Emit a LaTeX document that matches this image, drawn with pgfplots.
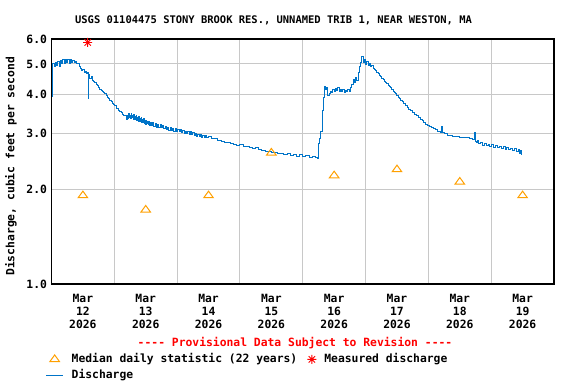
\documentclass[border=0pt]{standalone}
\usepackage{pgfplots}
\pgfplotsset{compat=1.18}
\usepackage{pgfplotstable}
\usepackage{fontspec}
\setmainfont{DejaVu Sans Mono}[Ligatures=ResetAll]
\definecolor{qblue}{HTML}{0074C8}
\definecolor{qorange}{HTML}{FFA000}
\definecolor{qgrid}{HTML}{C8C8C8}
\pgfdeclareplotmark{usgsstar}{%
  \pgfpathmoveto{\pgfqpoint{0pt}{\pgfplotmarksize}}\pgfpathlineto{\pgfqpoint{0pt}{-\pgfplotmarksize}}%
  \pgfpathmoveto{\pgfqpoint{\pgfplotmarksize}{0pt}}\pgfpathlineto{\pgfqpoint{-\pgfplotmarksize}{0pt}}%
  \pgfpathmoveto{\pgfqpoint{0.707\pgfplotmarksize}{0.707\pgfplotmarksize}}\pgfpathlineto{\pgfqpoint{-0.707\pgfplotmarksize}{-0.707\pgfplotmarksize}}%
  \pgfpathmoveto{\pgfqpoint{-0.707\pgfplotmarksize}{0.707\pgfplotmarksize}}\pgfpathlineto{\pgfqpoint{0.707\pgfplotmarksize}{-0.707\pgfplotmarksize}}%
  \pgfusepathqstroke}
\pgfplotstableread{
d q
0.00 4.95
0.01 3.94
0.02 5.02
0.04 4.90
0.06 5.05
0.08 4.96
0.10 5.10
0.12 4.92
0.14 5.14
0.16 5.00
0.18 5.17
0.20 5.03
0.22 5.18
0.24 5.05
0.26 5.15
0.28 5.02
0.30 5.17
0.32 5.06
0.34 5.12
0.36 5.04
0.38 5.08
0.40 5.02
0.42 5.00
0.44 4.90
0.46 4.85
0.48 4.77
0.50 4.80
0.52 4.70
0.54 4.74
0.56 4.66
0.58 4.68
0.585 3.87
0.59 4.62
0.61 4.50
0.63 4.55
0.65 4.44
0.67 4.40
0.69 4.36
0.71 4.30
0.73 4.26
0.75 4.20
0.77 4.16
0.79 4.12
0.81 4.10
0.83 4.05
0.85 4.02
0.87 3.96
0.89 3.90
0.91 3.88
0.93 3.82
0.95 3.80
0.97 3.75
0.99 3.72
1.01 3.68
1.03 3.62
1.05 3.60
1.07 3.55
1.09 3.52
1.11 3.50
1.13 3.46
1.15 3.44
1.17 3.42
1.19 3.40
1.20 3.33
1.21 3.42
1.22 3.36
1.23 3.47
1.24 3.38
1.25 3.44
1.26 3.35
1.27 3.48
1.28 3.38
1.29 3.44
1.30 3.34
1.31 3.46
1.32 3.33
1.33 3.40
1.34 3.32
1.35 3.43
1.36 3.30
1.37 3.38
1.38 3.29
1.39 3.40
1.40 3.28
1.41 3.36
1.42 3.30
1.43 3.38
1.44 3.27
1.45 3.33
1.46 3.25
1.47 3.35
1.48 3.24
1.49 3.30
1.50 3.22
1.51 3.31
1.52 3.23
1.53 3.29
1.54 3.21
1.55 3.28
1.56 3.19
1.57 3.26
1.59 3.18
1.61 3.25
1.63 3.17
1.65 3.23
1.67 3.15
1.69 3.22
1.71 3.14
1.73 3.20
1.75 3.13
1.77 3.19
1.79 3.11
1.81 3.17
1.83 3.10
1.85 3.15
1.87 3.08
1.89 3.14
1.91 3.07
1.93 3.12
1.95 3.06
1.97 3.11
1.99 3.05
2.01 3.10
2.03 3.04
2.05 3.09
2.07 3.02
2.09 3.07
2.11 3.01
2.13 3.06
2.15 3.00
2.17 3.05
2.19 2.99
2.21 3.04
2.23 2.98
2.25 3.02
2.27 2.96
2.29 3.01
2.31 2.95
2.33 2.99
2.35 2.94
2.37 2.98
2.39 2.93
2.41 2.97
2.43 2.92
2.45 2.96
2.47 2.91
2.50 2.94
2.55 2.90
2.60 2.89
2.65 2.86
2.70 2.84
2.75 2.82
2.80 2.81
2.85 2.79
2.90 2.78
2.95 2.76
3.00 2.77
3.05 2.74
3.10 2.73
3.15 2.72
3.20 2.70
3.25 2.71
3.30 2.67
3.35 2.66
3.40 2.64
3.45 2.63
3.50 2.61
3.55 2.62
3.60 2.59
3.65 2.60
3.70 2.57
3.75 2.59
3.80 2.56
3.85 2.58
3.90 2.55
3.95 2.57
4.00 2.54
4.05 2.56
4.10 2.53
4.15 2.55
4.20 2.52
4.24 2.50
4.25 2.80
4.27 2.90
4.29 3.05
4.31 3.40
4.32 3.57
4.33 3.90
4.34 4.25
4.36 4.15
4.38 4.20
4.40 3.98
4.42 4.02
4.44 4.10
4.46 4.05
4.48 4.15
4.50 4.08
4.52 4.18
4.54 4.12
4.56 4.20
4.58 4.10
4.60 4.16
4.62 4.08
4.64 4.14
4.66 4.06
4.68 4.12
4.70 4.08
4.72 4.15
4.74 4.10
4.76 4.20
4.78 4.30
4.80 4.45
4.82 4.38
4.84 4.52
4.86 4.42
4.88 4.70
4.90 4.90
4.92 5.05
4.94 5.29
4.96 5.05
4.98 5.15
5.00 4.98
5.02 5.08
5.04 4.95
5.06 5.00
5.08 4.92
5.10 4.96
5.12 4.85
5.14 4.80
5.16 4.76
5.18 4.70
5.20 4.66
5.22 4.58
5.24 4.55
5.26 4.48
5.28 4.45
5.30 4.40
5.32 4.35
5.34 4.32
5.36 4.28
5.38 4.24
5.40 4.20
5.42 4.14
5.44 4.10
5.46 4.06
5.48 4.02
5.50 3.98
5.52 3.92
5.54 3.88
5.56 3.84
5.58 3.80
5.60 3.75
5.63 3.70
5.66 3.64
5.69 3.58
5.72 3.55
5.75 3.50
5.78 3.45
5.81 3.42
5.84 3.37
5.87 3.34
5.90 3.30
5.93 3.26
5.96 3.22
5.99 3.19
6.02 3.16
6.05 3.14
6.08 3.12
6.11 3.09
6.14 3.06
6.17 3.05
6.20 3.03
6.21 3.16
6.22 3.02
6.26 3.00
6.30 2.97
6.34 2.96
6.38 2.95
6.42 2.94
6.46 2.95
6.50 2.93
6.54 2.92
6.58 2.93
6.62 2.91
6.66 2.90
6.70 2.88
6.73 2.87
6.74 3.02
6.75 2.84
6.76 2.82
6.78 2.86
6.80 2.80
6.83 2.82
6.86 2.76
6.89 2.80
6.92 2.75
6.95 2.78
6.98 2.73
7.01 2.77
7.04 2.72
7.07 2.76
7.10 2.71
7.13 2.74
7.16 2.70
7.19 2.73
7.22 2.68
7.25 2.72
7.28 2.67
7.31 2.70
7.34 2.66
7.37 2.69
7.40 2.64
7.43 2.67
7.45 2.60
7.47 2.66
7.48 2.58
7.49 2.64
}\discharge
\begin{document}
\begin{tikzpicture}[x=1bp,y=1bp]
\path[use as bounding box] (0,0) rectangle (576,384);
\begin{axis}[
  at={(51.5bp,100bp)}, anchor=south west,
  scale only axis, width=502.5bp, height=245bp,
  font=\fontsize{11.4}{13}\selectfont\bfseries,
  xmin=0, xmax=8, ymode=log, ymin=1, ymax=6,
  xtick={0.5,1.5,2.5,3.5,4.5,5.5,6.5,7.5},
  xticklabels={{Mar\\12\\2026},{Mar\\13\\2026},{Mar\\14\\2026},{Mar\\15\\2026},{Mar\\16\\2026},{Mar\\17\\2026},{Mar\\18\\2026},{Mar\\19\\2026}},
  xticklabel style={align=center, yshift=-7bp},
  minor xtick={1,2,3,4,5,6,7},
  xminorgrids=true, xmajorgrids=false,
  ytick={1,2,3,4,5,6},
  yticklabels={1.0,2.0,3.0,4.0,5.0,6.0},
  yticklabel style={xshift=-1bp},
  ymajorgrids=true, yminorgrids=false,
  minor ytick={},
  major tick length=0pt, minor tick length=0pt,
  grid style={qgrid, line width=1bp},
  minor grid style={qgrid, line width=1bp},
  axis line style={black, line width=1.2bp},
  ylabel={Discharge, cubic feet per second},
  ylabel style={at={(axis description cs:-0.0806,0.48)}, anchor=center, rotate=0},
  clip=false,
  legend columns=2,
  legend cell align=left,
  legend style={at={(axis description cs:-0.012,-0.274)}, anchor=north west, draw=none, fill=none,
    font=\fontsize{11.4}{13}\selectfont\bfseries, inner sep=0pt,
    nodes={text height=8bp, text depth=2bp, inner xsep=4bp, inner ysep=3bp},
    /tikz/every odd column/.append style={column sep=4bp},
    /tikz/every even column/.append style={column sep=6bp}},
]
\addplot[only marks, mark=triangle, mark size=5.5bp, mark options={qorange, line width=1bp, yscale=0.8}]
  coordinates {(0.5,1.91) (1.5,1.72) (2.5,1.91) (3.5,2.61) (4.5,2.21) (5.5,2.31) (6.5,2.11) (7.5,1.91)};
\addlegendentry{Median daily statistic (22 years)}
\addplot[only marks, mark=usgsstar, mark size=4.5bp, mark options={red, line width=0.9bp}]
  coordinates {(0.576,5.85)};
\addlegendentry{Measured discharge}
\addplot[qblue, line width=1bp, const plot] table[x=d, y=q] {\discharge};
\addlegendentry{Discharge}
\node[text=red, font=\fontsize{11.4}{13}\selectfont\bfseries] at (axis description cs:0.4846,-0.2396) {-{}-{}-{}- Provisional Data Subject to Revision -{}-{}-{}-};
\node[font=\fontsize{10.5}{12}\selectfont\bfseries] at (axis description cs:0.4418,1.0776) {USGS 01104475 STONY BROOK RES., UNNAMED TRIB 1, NEAR WESTON, MA};
\end{axis}
\end{tikzpicture}
\end{document}
